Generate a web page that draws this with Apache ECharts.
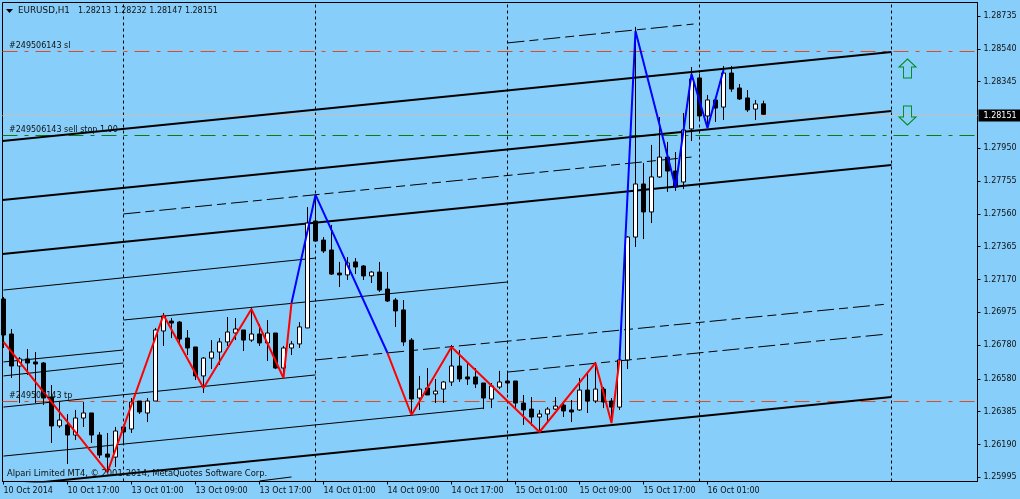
<!DOCTYPE html>
<html>
<head>
<meta charset="utf-8">
<style>html,body{margin:0;padding:0;background:#87CEFA;overflow:hidden}#c{width:1020px;height:499px}</style>
<script src="https://cdn.jsdelivr.net/npm/echarts@6/dist/echarts.min.js"></script>
</head>
<body>
<div id="c"></div>
<script>
// Hourly bars, in points (price x 100000); index 0 is 10 Oct 2014 09:00
const opens  = [127054,126846,126656,126698,126680,126674,126472,126300,126306,126246,126347,126377,126246,126133,126115,126294,126282,126448,126377,126448,126864,126923,126917,126822,126769,126597,126703,126739,126799,126852,126870,126810,126846,126793,126852,126644,126763,126787,126882,127517,127404,127345,127208,127197,127274,127250,127191,127214,127113,127048,126989,126810,126466,126525,126490,126519,126561,126656,126591,126591,126555,126460,126531,126567,126567,126436,126400,126353,126371,126400,126424,126395,126395,126513,126448,126519,126448,126412,126692,127422,127737,127571,127779,127897,127814,127749,128064,128367,128141,128236,128194,128396,128307,128248,128182,128213];
const closes = [126840,126656,126698,126674,126668,126466,126300,126335,126246,126347,126377,126246,126127,126115,126270,126264,126442,126383,126448,126870,126953,126911,126816,126763,126597,126703,126739,126799,126858,126876,126810,126846,126793,126852,126644,126763,126787,126888,127505,127398,127339,127202,127197,127268,127244,127191,127214,127107,127042,126983,126799,126460,126519,126484,126507,126561,126656,126579,126579,126549,126466,126537,126561,126555,126436,126395,126353,126371,126400,126418,126389,126383,126513,126448,126519,126442,126412,126692,127422,127737,127571,127779,127897,127814,127719,128058,128361,128141,128236,128188,128396,128301,128242,128177,128212,128151];
const lows   = [126763,126585,126436,126603,126436,126424,126199,126288,126074,126216,126294,126199,126109,126026,126056,126199,126258,126371,126323,126448,126775,126822,126781,126721,126573,126496,126638,126662,126775,126810,126745,126799,126775,126686,126638,126585,126721,126763,126882,127398,127327,127197,127125,127167,127202,127167,127149,127096,127036,126888,126775,126365,126395,126484,126436,126436,126537,126561,126543,126525,126400,126406,126519,126496,126406,126306,126300,126258,126323,126395,126353,126323,126389,126377,126436,126406,126317,126395,126638,127363,127410,127505,127773,127690,127696,127707,127992,128117,128088,128105,128117,128284,128236,128165,128117,128147];
const highs  = [127066,126876,126709,126757,126739,126680,126543,126442,126371,126395,126442,126377,126264,126258,126294,126306,126466,126448,126466,126882,126971,126941,126923,126870,126769,126709,126810,126822,126947,126941,126870,127000,126905,126929,126852,126775,126804,126917,127600,127672,127422,127494,127274,127303,127297,127256,127220,127274,127214,127060,127048,126822,126597,126644,126579,126567,126781,126751,126680,126644,126555,126555,126627,126614,126567,126484,126472,126395,126412,126472,126436,126454,126585,126614,126680,126531,126466,126703,127428,128670,127862,127969,128135,127987,127927,128159,128432,128390,128266,128254,128438,128438,128331,128295,128236,128232];

// Zigzag turning points as [bar index, points]
const zigzagRedA  = [[0,126799],[13,126026],[20,126959],[25,126525],[31,126994],[35,126585],[36,127030]];
const zigzagBlueA = [[36,127030],[39,127672],[48,126733]];
const zigzagRedB  = [[48,126733],[51,126365],[56,126769],[67,126264],[74,126674],[76,126317],[77,126692]];
const zigzagBlueB = [[77,126692],[79,128646],[84,127719],[86,128390],[88,128070],[90,128414]];

// Trend channels: [startIndex, startPoints, endIndex, endPoints]
const thickLines = [
  [-0.125,127992,111,128521],
  [-0.125,127642,111,128171],
  [-0.125,127321,111,127850],
  [0,125943,111,126472]
];
const thinLines = [
  [0,127107,39,127297],
  [15,126929,63,127155],
  [0,126680,15,126751],
  [0,126597,15,126674],
  [0,126412,39,126603],
  [0,126121,60,126406],
  [32,125973,36,125997]
];
const dashedLines = [
  [15,127559,86,127897],
  [39,126692,110.5,127024],
  [63,126620,110.5,126846],
  [63,128575,86.25,128687]
];

const separators = [15,39,63,87,111];
const timeLabels = ['10 Oct 2014','10 Oct 17:00','13 Oct 01:00','13 Oct 09:00','13 Oct 17:00','14 Oct 01:00','14 Oct 09:00','14 Oct 17:00','15 Oct 01:00','15 Oct 09:00','15 Oct 17:00','16 Oct 01:00'];
const timeTicks = [0,8,16,24,32,40,48,56,64,72,80,88];
const priceTicks = [1.28735,1.28540,1.28345,1.27950,1.27755,1.27560,1.27365,1.27170,1.26975,1.26780,1.26580,1.26385,1.26190,1.25995];
const lastPriceText = '1.28151', lastPriceLevel = 1.28144;
const stopLoss = 1.28524, sellStop = 1.28025, takeProfit = 1.26445;
const upArrow = [113,1.28423], downArrow = [113,1.28144];

const xMin = -0.125, xMax = 121.75, yMin = 1.25970, yMax = 1.28815;
const font = '"DejaVu Sans", sans-serif';
const fontSize = 8;
const inkColor = '#101010';
const p = v => v / 100000;
const candles = opens.map((o,i) => [i, p(o), p(closes[i]), p(lows[i]), p(highs[i])]);

function seg(s, width, dash, z) {
  return { type:'line', silent:true, symbol:'none', animation:false, z,
    data:[[s[0],p(s[1])],[s[2],p(s[3])]],
    lineStyle:{ color:'#000', width, type:dash || 'solid' } };
}
function zig(pts, color) {
  return { type:'line', silent:true, symbol:'none', animation:false, z:6,
    data:pts.map(a => [a[0],p(a[1])]), lineStyle:{ color, width:2 } };
}
function hline(v, color, dash, extra) {
  return Object.assign({ type:'line', silent:true, symbol:'none', animation:false, z:1,
    data:[[xMin,v],[xMax,v]], lineStyle:{ color, width:1, type:dash } }, extra || {});
}
function vline(x) {
  return { type:'line', silent:true, symbol:'none', animation:false, z:1,
    data:[[x,yMin],[x,yMax]], lineStyle:{ color:'#000', width:1, type:[3,3] } };
}

const dashDot = [15,7,4,7];
const series = [];
separators.forEach(x => series.push(vline(x)));
series.push(hline(stopLoss,'#e04a20',dashDot));
series.push(hline(takeProfit,'#e04a20',dashDot));
series.push(hline(sellStop,'#0a7d0a',dashDot));
series.push(hline(lastPriceLevel,'#c0c0c0','solid',{
  endLabel:{ show:true, distance:1, formatter:lastPriceText, color:'#fff', backgroundColor:'#000',
    fontFamily:font, fontSize, padding:[2,8,2,5] } }));
thinLines.forEach(s => series.push(seg(s,1,null,2)));
dashedLines.forEach(s => series.push(seg(s,1,[17,5,9,5],2)));
thickLines.forEach(s => series.push(seg(s,2,null,3)));
series.push({ type:'candlestick', silent:true, animation:false, z:4, barWidth:5,
  encode:{ x:0, y:[1,2,3,4] }, data:candles,
  itemStyle:{ color:'#fff', color0:'#000', borderColor:'#000', borderColor0:'#000', borderWidth:1 } });
series.push(zig(zigzagRedA,'#ff0000'), zig(zigzagBlueA,'#0000ff'), zig(zigzagRedB,'#ff0000'), zig(zigzagBlueB,'#0000ff'));
series.push({ type:'scatter', silent:true, animation:false, z:5,
  symbol:'path://M8.5 0 L17 8 L12.5 8 L12.5 19 L4.5 19 L4.5 8 L0 8 Z', symbolSize:[17,19],
  itemStyle:{ color:'transparent', borderColor:'#008a1a', borderWidth:1, opacity:1 },
  data:[{ value:upArrow },{ value:downArrow, symbolRotate:180 }] });

const txt = (x,y,t,size) => ({ type:'text', x, y, z:20, silent:true,
  style:{ text:t, fill:inkColor, font:(size||fontSize)+'px '+font, textVerticalAlign:'middle' } });

const chart = echarts.init(document.getElementById('c'), null, { renderer:'canvas' });
chart.setOption({
  animation:false,
  backgroundColor:'#87CEFA',
  grid:{ left:2.5, right:42.5, top:2.5, bottom:17.5, show:true, borderColor:'#000', borderWidth:1, backgroundColor:'transparent', containLabel:false },
  tooltip:{ show:false },
  xAxis:{ type:'value', min:xMin, max:xMax, splitLine:{show:false},
    axisLine:{ show:true, onZero:false, lineStyle:{color:'#000'} },
    axisTick:{ show:true, length:3, customValues:timeTicks, lineStyle:{color:'#000'} },
    axisLabel:{ show:true, customValues:timeTicks, margin:5, align:'left', color:inkColor, fontFamily:font, fontSize,
      formatter:v => timeLabels[timeTicks.indexOf(v)] } },
  yAxis:{ type:'value', position:'right', min:yMin, max:yMax, splitLine:{show:false},
    axisLine:{ show:true, onZero:false, lineStyle:{color:'#000'} },
    axisTick:{ show:true, length:3, customValues:priceTicks, lineStyle:{color:'#000'} },
    axisLabel:{ show:true, customValues:priceTicks, margin:6, color:inkColor, fontFamily:font, fontSize,
      formatter:v => v.toFixed(5) } },
  graphic:[
    { type:'polygon', silent:true, z:20, shape:{ points:[[6,9],[13,9],[9.5,13]] }, style:{ fill:'#000' } },
    txt(18,10.5,'EURUSD,H1',8.8),
    txt(78,10.5,'1.28213 1.28232 1.28147 1.28151'),
    txt(9,45.5,'#249506143 sl'),
    txt(9,129.5,'#249506143 sell stop 1.00'),
    txt(9,396,'#249506143 tp'),
    txt(7,474,'Alpari Limited MT4, \u00a9 2001-2014, MetaQuotes Software Corp.',8.35)
  ],
  series
});
</script>
</body>
</html>
